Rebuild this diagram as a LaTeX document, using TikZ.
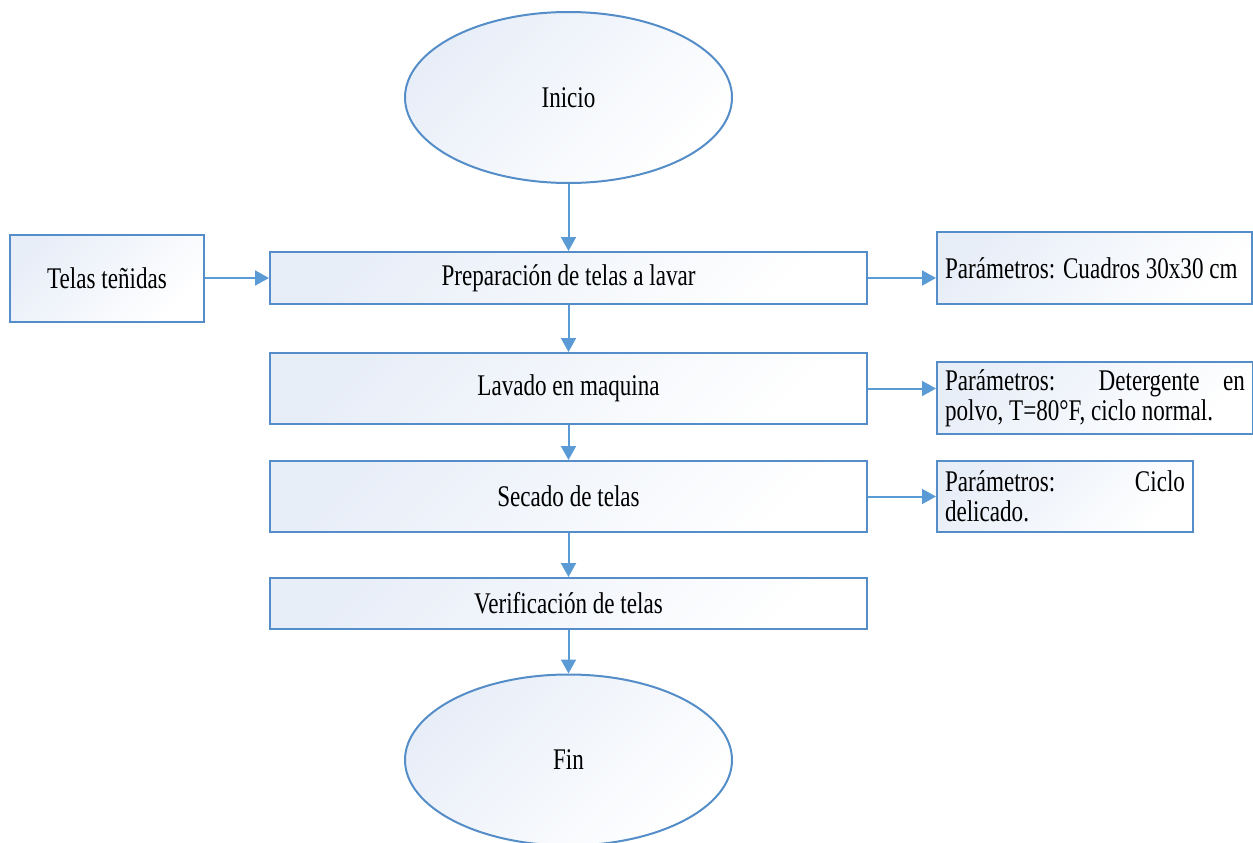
\documentclass[tikz,border=0pt]{standalone}
\usepackage{fontspec}
\setmainfont[FakeStretch=0.77]{Liberation Serif}
\usepackage{tikz}
\usetikzlibrary{shapes.geometric,arrows.meta}
\definecolor{lineblue}{RGB}{91,155,213}
\definecolor{edgeblue}{RGB}{84,141,200}
\definecolor{fillblue}{RGB}{232,238,248}

\begin{document}
\begin{tikzpicture}[x=1pt,y=-1pt,
      every node/.style={font=\fontsize{30}{30}\selectfont,inner sep=0pt},
      shadedfill/.style={draw=edgeblue,line width=2pt,top color=fillblue,bottom color=white,shading angle=45},
      terminal/.style={shadedfill,ellipse,minimum width=327pt,minimum height=171pt},
      process/.style={shadedfill,rectangle,minimum width=597pt},
      paramnote/.style={shadedfill,rectangle,align=justify,inner xsep=8pt,
        execute at begin node={\hyphenpenalty10000\relax}},
      flow/.style={draw=lineblue,line width=2pt,-{Triangle[length=14pt,width=15pt]}}]
    \useasboundingbox (0,0) rectangle (1253,843);
    \node[terminal] (inicio) at (568.5,97.5) {Inicio};
    \node[shadedfill,minimum width=194pt,minimum height=87pt] (telas) at (107,278) {Telas teñidas};
    \node[process,minimum height=52pt] (prep) at (568.5,278) {Preparación de telas a lavar};
    \node[process,minimum height=71pt] (lavado) at (568.5,388.5) {Lavado en maquina};
    \node[process,minimum height=71pt] (secado) at (568.5,496.5) {Secado de telas};
    \node[process,minimum height=51pt] (verif) at (568.5,603.5) {Verificación de telas};
    \node[terminal] (fin) at (568.5,760) {Fin};
    \node[paramnote,text width=299pt,minimum height=72pt] (param1) at (1094.5,268) {Parámetros: Cuadros 30x30 cm};
    \node[paramnote,text width=300pt,minimum height=72pt] (param2) at (1095,398) {Parámetros: Detergente en polvo, T=80°F, ciclo normal.};
    \node[paramnote,text width=240pt,minimum height=71pt] (param3) at (1065,496.5) {Parámetros: Ciclo delicado.};
    \draw[flow] (inicio) -- (prep);
    \draw[flow] (telas) -- (prep);
    \draw[flow] (prep) -- (lavado);
    \draw[flow] (lavado) -- (secado);
    \draw[flow] (secado) -- (verif);
    \draw[flow] (verif) -- (fin);
    \draw[flow] (prep.east) -- (prep.east -| param1.west);
    \draw[flow] (lavado.east) -- (lavado.east -| param2.west);
    \draw[flow] (secado.east) -- (secado.east -| param3.west);
  \end{tikzpicture}
\end{document}
